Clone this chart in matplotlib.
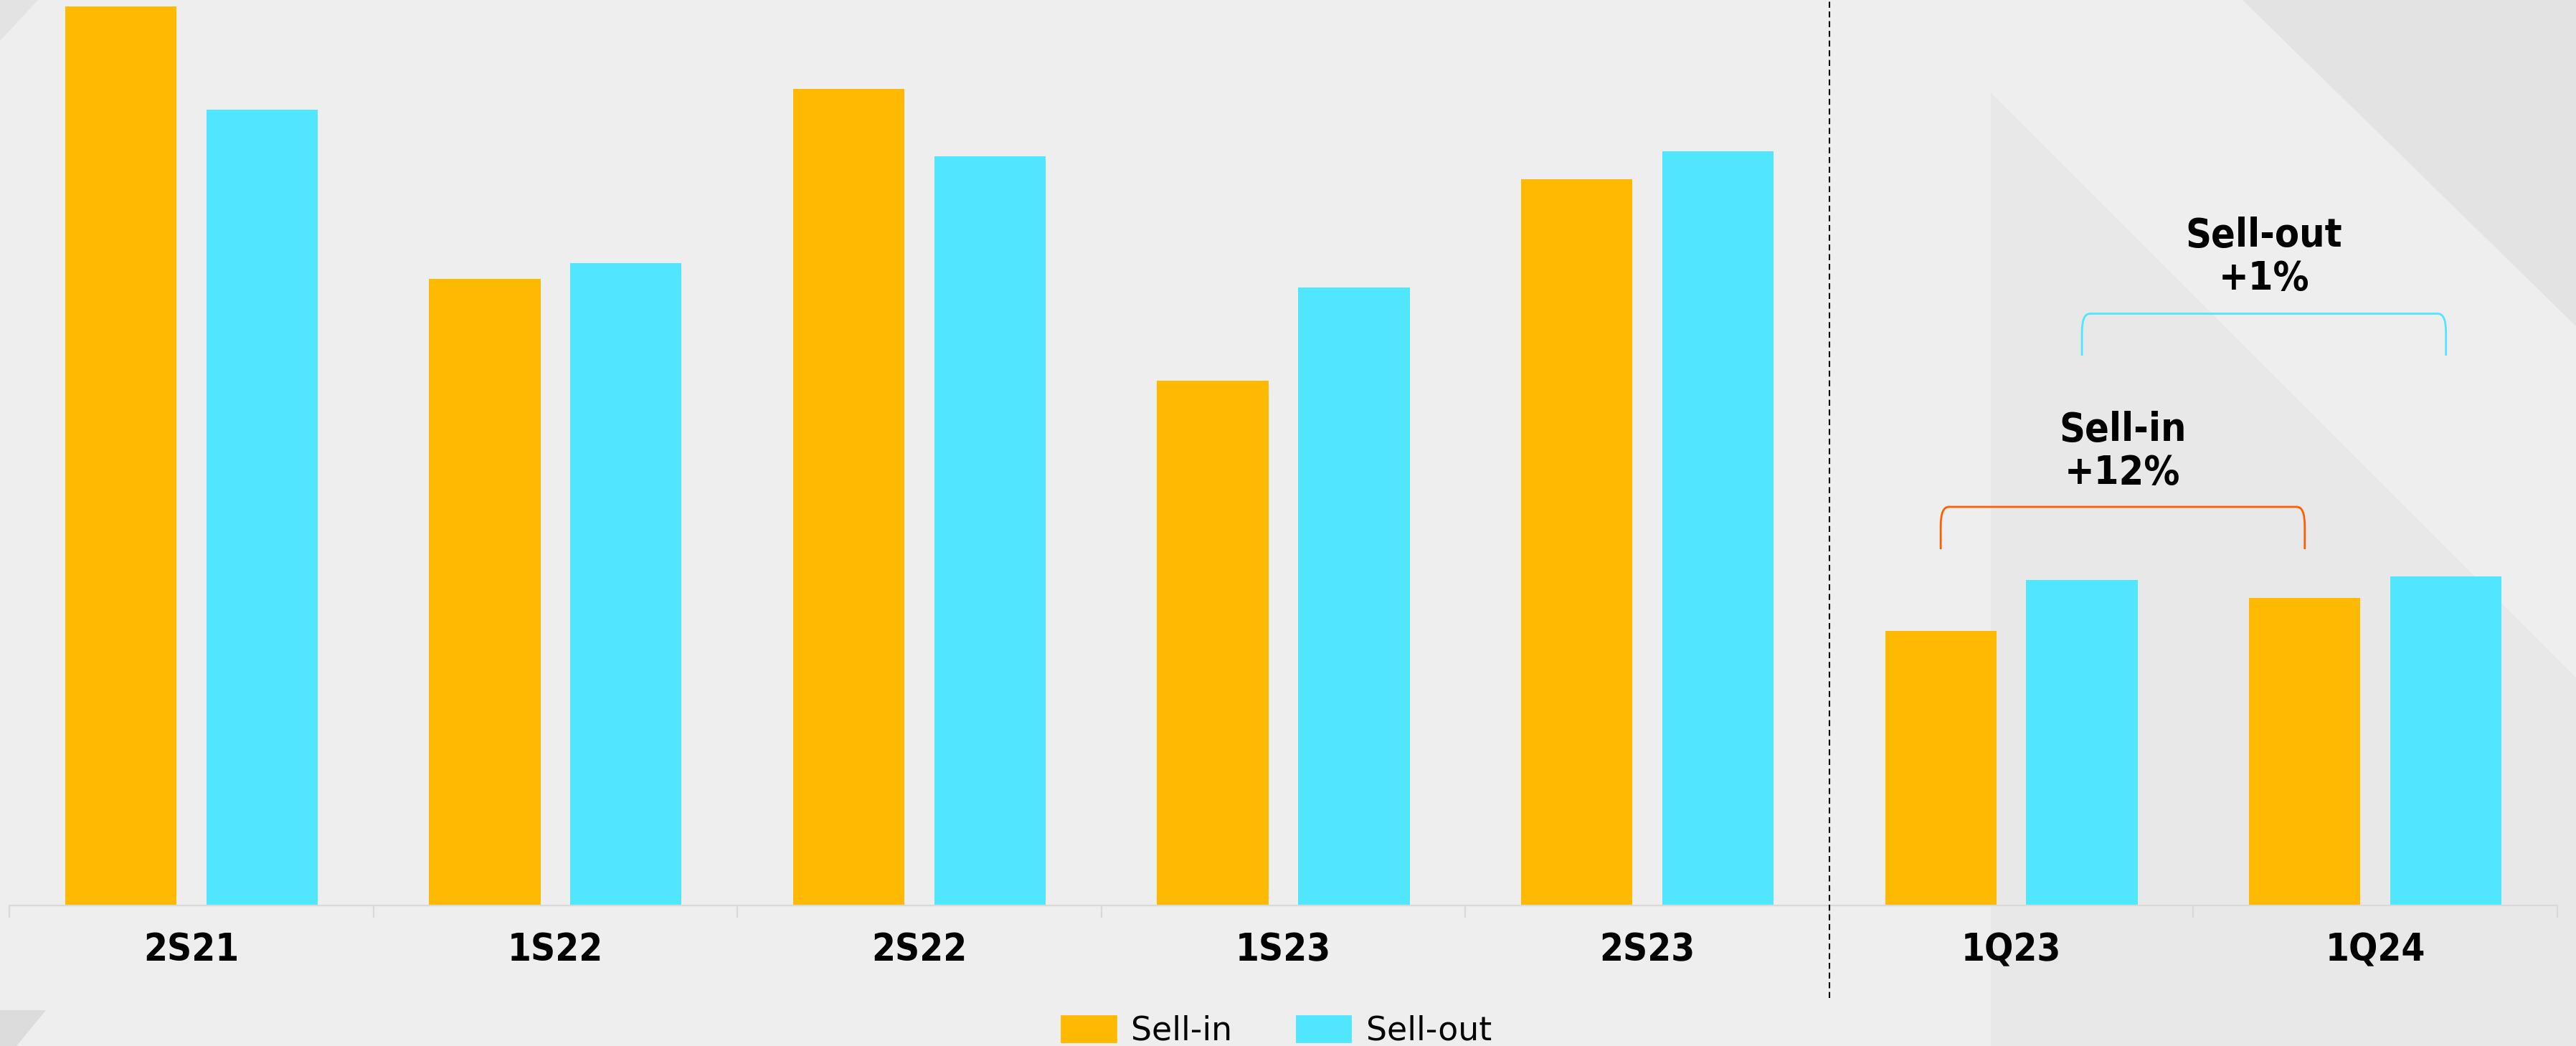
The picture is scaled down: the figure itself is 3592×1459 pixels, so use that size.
import numpy as np
import matplotlib.pyplot as plt
from matplotlib.patches import Polygon, Patch, PathPatch
from matplotlib.path import Path

periods = ['2S21', '1S22', '2S22', '1S23', '2S23', '1Q23', '1Q24']
sell_in = [125.4, 87.4, 113.9, 73.2, 101.3, 38.3, 42.9]
sell_out = [111.0, 89.6, 104.5, 86.2, 105.2, 45.4, 45.9]
growth_labels = ['Sell-in\n+12%', 'Sell-out\n+1%']

ORANGE = '#FFB900'
CYAN = '#50E6FF'
BRACKET_ORANGE = '#FF5F00'
BG = '#EEEEEE'

W, H = 3592, 1459
DPI = 200
fig = plt.figure(figsize=(W / DPI, H / DPI), dpi=DPI, facecolor=BG)

def px(pts):
    # pixel coords (origin top-left) -> figure fraction
    return [(x / W, 1 - y / H) for x, y in pts]

# decorative background shapes
shapes = [
    ([(0, 0), (53, 0), (0, 57)], '#E3E3E3'),
    ([(0, 1409), (64, 1409), (23, 1459), (0, 1459)], '#DCDCDC'),
    ([(3127, 0), (3592, 0), (3592, 455)], '#E3E3E3'),
    ([(2776, 129), (3592, 945), (3592, 1459), (2776, 1459)], '#E8E8E8'),
]
for pts, col in shapes:
    fig.patches.append(Polygon(px(pts), closed=True, transform=fig.transFigure,
                               facecolor=col, edgecolor='none', zorder=-5))

ax = fig.add_axes([13 / W, 196 / H, (3566 - 13) / W, 1263 / H])
ax.set_facecolor('none')
ax.set_zorder(2)

x = np.arange(len(periods))
bw = 0.306
off = 0.194
ax.bar(x - off, sell_in, bw, color=ORANGE, label='Sell-in', zorder=2)
ax.bar(x + off, sell_out, bw, color=CYAN, label='Sell-out', zorder=2)

ax.set_xlim(-0.5, len(periods) - 0.5)
ax.set_ylim(0, 126.3)

for s in ['top', 'right', 'left']:
    ax.spines[s].set_visible(False)
ax.spines['bottom'].set_color('#D9D9D9')
ax.spines['bottom'].set_linewidth(0.8)
ax.set_yticks([])

# boundary ticks + centred labels
ax.set_xticks(np.arange(len(periods) + 1) - 0.5)
ax.set_xticklabels([])
ax.tick_params(axis='x', which='major', length=6, width=0.8, color='#D9D9D9', direction='out')
ax.set_xticks(x, minor=True)
ax.set_xticklabels(periods, minor=True, fontsize=19, fontweight='bold',
                   fontstretch='condensed')
ax.tick_params(axis='x', which='minor', length=0, pad=13)

# separator between semesters and quarters
ax.plot([4.5, 4.5], [-12.9, 126.3], ls=(0, (4, 2.5)), color='black',
        lw=0.75, clip_on=False, zorder=3)

def bracket(x0, x1, y0, y1, color):
    dx = 0.022
    dy = (y1 - y0) * 0.45
    verts = [(x0, y0), (x0, y1 - dy), (x0, y1), (x0 + dx, y1),
             (x1 - dx, y1), (x1, y1), (x1, y1 - dy), (x1, y0)]
    codes = [Path.MOVETO, Path.LINETO, Path.CURVE3, Path.CURVE3,
             Path.LINETO, Path.CURVE3, Path.CURVE3, Path.LINETO]
    ax.add_patch(PathPatch(Path(verts, codes), facecolor='none', edgecolor=color,
                           lw=1.0, zorder=3))

# sell-in growth: 1Q23 -> 1Q24
bracket(5 - off, 6 - off, 49.7, 55.6, BRACKET_ORANGE)
ax.text(5.5 - off, 63.3, growth_labels[0], ha='center', va='center', fontsize=20,
        fontweight='bold', fontstretch='condensed', linespacing=1.12)
# sell-out growth
bracket(5 + off, 6 + off, 76.7, 82.55, CYAN)
ax.text(5.5 + off, 90.4, growth_labels[1], ha='center', va='center', fontsize=20,
        fontweight='bold', fontstretch='condensed', linespacing=1.12)

handles = [Patch(color=ORANGE, label='Sell-in'), Patch(color=CYAN, label='Sell-out')]
fig.legend(handles=handles, loc='center', bbox_to_anchor=(1780 / W, 1 - 1438 / H),
           ncol=2, frameon=False, fontsize=16.5, handlelength=1.65, handleheight=0.83,
           handletextpad=0.46, columnspacing=1.96, borderpad=0, borderaxespad=0)

fig.savefig('out.png', dpi=DPI, facecolor=BG)
